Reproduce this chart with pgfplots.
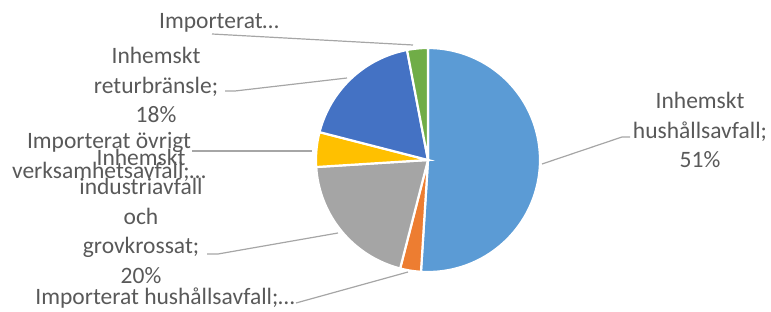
\documentclass[border=0pt]{standalone}
\usepackage{pgfplots}
\pgfplotsset{compat=1.18}
\usepackage{pgfplotstable}
\usepackage{fontspec}
\setmainfont{Carlito}
\definecolor{cA}{HTML}{5B9BD5}
\definecolor{cB}{HTML}{ED7D31}
\definecolor{cC}{HTML}{A5A5A5}
\definecolor{cD}{HTML}{FFC000}
\definecolor{cE}{HTML}{4472C4}
\definecolor{cF}{HTML}{70AD47}
\definecolor{txt}{HTML}{595959}
\definecolor{lead}{HTML}{A6A6A6}
\tikzset{lbl/.style={font=\fontsize{23.5}{29.5}\selectfont,text=txt,align=center,inner sep=0pt}}

% shares (%) clockwise from 12 o'clock
\pgfplotstableread{
share
51
3
20
5
18
3
}\piedata

\begin{document}
\begin{tikzpicture}
\pgfplotstablegetelem{0}{share}\of\piedata\pgfmathsetmacro\eA{90-3.6*\pgfplotsretval}
\pgfplotstablegetelem{1}{share}\of\piedata\pgfmathsetmacro\eB{\eA-3.6*\pgfplotsretval}
\pgfplotstablegetelem{2}{share}\of\piedata\pgfmathsetmacro\eC{\eB-3.6*\pgfplotsretval}
\pgfplotstablegetelem{3}{share}\of\piedata\pgfmathsetmacro\eD{\eC-3.6*\pgfplotsretval}
\pgfplotstablegetelem{4}{share}\of\piedata\pgfmathsetmacro\eE{\eD-3.6*\pgfplotsretval}
\pgfplotstablegetelem{5}{share}\of\piedata\pgfmathsetmacro\eF{\eE-3.6*\pgfplotsretval}
\begin{axis}[width=771pt,height=312pt,scale only axis,
  xmin=0,xmax=771,ymin=0,ymax=312,y dir=reverse,hide axis,clip=false]
\pgfplotsset{slice/.style={draw=white,line width=2.2pt,samples=90,smooth}}
\addplot[slice,fill=cA,domain=\eA:90] ({428+112*cos(x)},{160-112*sin(x)}) -- (axis cs:428,160) -- cycle;
\addplot[slice,fill=cB,domain=\eB:\eA] ({428+112*cos(x)},{160-112*sin(x)}) -- (axis cs:428,160) -- cycle;
\addplot[slice,fill=cC,domain=\eC:\eB] ({428+112*cos(x)},{160-112*sin(x)}) -- (axis cs:428,160) -- cycle;
\addplot[slice,fill=cD,domain=\eD:\eC] ({428+112*cos(x)},{160-112*sin(x)}) -- (axis cs:428,160) -- cycle;
\addplot[slice,fill=cE,domain=\eE:\eD] ({428+112*cos(x)},{160-112*sin(x)}) -- (axis cs:428,160) -- cycle;
\addplot[slice,fill=cF,domain=\eF:\eE] ({428+112*cos(x)},{160-112*sin(x)}) -- (axis cs:428,160) -- cycle;
% leader lines
\draw[lead,line width=1.2pt] (axis cs:212,34) -- (axis cs:413,45);
\draw[lead,line width=1.2pt] (axis cs:225,91) -- (axis cs:235,91) -- (axis cs:347,78);
\draw[lead,line width=1.2pt] (axis cs:192,151) -- (axis cs:312,151);
\draw[lead,line width=1.2pt] (axis cs:207,254) -- (axis cs:218,254) -- (axis cs:338,233);
\draw[lead,line width=1.2pt] (axis cs:296,303) -- (axis cs:408,272);
\draw[lead,line width=1.2pt] (axis cs:542,164) -- (axis cs:622,137) -- (axis cs:630,137);
% labels
\node[lbl] at (axis cs:219,23) {Importerat…};
\node[lbl] at (axis cs:156,85) {Inhemskt\\returbränsle;\\18\%};
\node[lbl] at (axis cs:109,157) {Importerat övrigt\\verksamhetsavfall;…};
\node[lbl] at (axis cs:141,216) {Inhemskt\\industriavfall\\och\\grovkrossat;\\20\%};
\node[lbl] at (axis cs:165,298) {Importerat hushållsavfall;…};
\node[lbl] at (axis cs:700,130) {Inhemskt\\hushållsavfall;\\51\%};
\coordinate (TL) at (axis cs:0,0);
\coordinate (BR) at (axis cs:771,312);
\end{axis}
\pgfresetboundingbox
\path[use as bounding box] (TL) rectangle (BR);
\end{tikzpicture}
\end{document}
